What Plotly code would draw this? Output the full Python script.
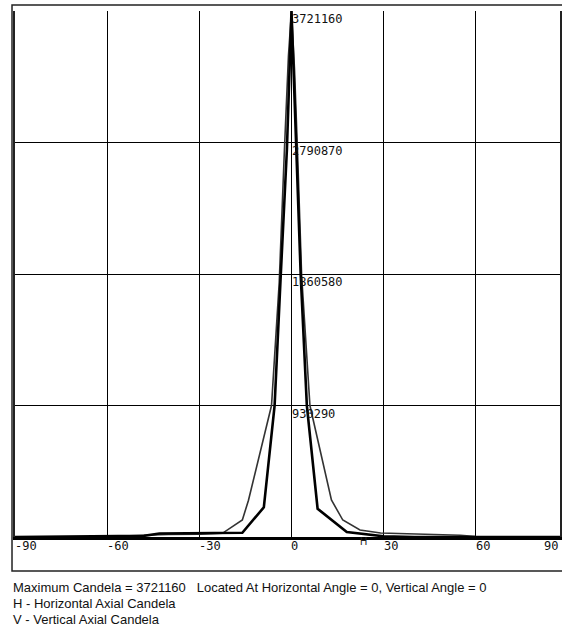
import plotly.graph_objects as go

# Horizontal axial candela (thin, wider curve)
h_angles = [-90, -65, -60, -48, -40, -30, -22.5, -16, -14, -6.5, -4, -2.3, -1, 0,
            1, 2, 3.3, 6, 13, 16.7, 22.3, 29, 40, 55, 60, 65, 90]
h_values = [0, 0, 3000, 12000, 18000, 20000, 26000, 120000, 260000, 930000, 1800000, 2740000, 3400000, 3721160,
            3300000, 2700000, 1850000, 930000, 262000, 120000, 50000, 28000, 20000, 12000, 3000, 0, 0]

# Vertical axial candela (thick, narrower curve)
v_angles = [-90, -65, -48, -43, -30, -16, -9, -5.5, -3.5, -1.5, 0,
            1.5, 3, 5, 8.5, 18, 24.6, 30, 40, 90]
v_values = [0, 2000, 8000, 25000, 28000, 30000, 210000, 930000, 1850000, 2740000, 3721160,
            2740000, 1850000, 930000, 200000, 35000, 18000, 5000, 0, 0]

max_cd = 3721160
y_ticks = [930290, 1860580, 2790870, 3721160]
y_tick_labels = ["930290", "1860580", "2790870", "3721160"]
x_ticks = [-90, -60, -30, 0, 30, 60, 90]
x_tick_labels = ["-90", "-60", "-30", "0", "30", "60", "90"]

footer_lines = [
    "Maximum Candela = 3721160&nbsp;&nbsp;&nbsp;Located At Horizontal Angle = 0, Vertical Angle = 0",
    "H - Horizontal Axial Candela",
    "V - Vertical Axial Candela",
]
footer_py = [588, 603, 619]

# plot-area geometry in pixels
L, T, B = 15, 11, 537
W_PLOT = 562 - L
H_PLOT = B - T

tick_font = dict(family="DejaVu Sans Mono", size=12, color="#111")

fig = go.Figure()
fig.add_trace(go.Scatter(x=h_angles, y=h_values, mode="lines",
                         line=dict(color="#333333", width=1.6), showlegend=False))
fig.add_trace(go.Scatter(x=v_angles, y=v_values, mode="lines",
                         line=dict(color="#000000", width=2.6), showlegend=False))

annotations = []
for v, t in zip(y_ticks, y_tick_labels):
    annotations.append(dict(x=0, y=v, xref="x", yref="y", text=t, showarrow=False,
                            xanchor="left", yanchor="top", xshift=-1, yshift=1,
                            font=tick_font))
for v, t in zip(x_ticks, x_tick_labels):
    if v == 90:
        annotations.append(dict(x=1.0, y=0, xref="paper", yref="y", text=t, showarrow=False,
                                xanchor="right", yanchor="top", yshift=0,
                                font=tick_font))
    else:
        annotations.append(dict(x=v, y=0, xref="x", yref="y", text=t, showarrow=False,
                                xanchor="left", yanchor="top", yshift=0, xshift=-2,
                                font=tick_font))
annotations.append(dict(x=23.5, y=0, xref="x", yref="y", text="H", showarrow=False,
                        xanchor="center", yanchor="top", yshift=3,
                        font=dict(family="Liberation Sans", size=10, color="#222")))
for line, py in zip(footer_lines, footer_py):
    annotations.append(dict(x=(11 - L) / W_PLOT, y=(B - py) / H_PLOT, xref="paper", yref="paper",
                            text=line, showarrow=False, xanchor="left", yanchor="middle",
                            font=dict(family="Liberation Sans", size=13, color="#111")))

fig.update_layout(annotations=annotations)

fig.add_shape(type="rect", xref="paper", yref="paper",
              x0=(12 - L) / W_PLOT, x1=1.02, y0=(B - 571) / H_PLOT, y1=(B - 5) / H_PLOT,
              line=dict(color="#222", width=1.5), layer="above")

fig.update_xaxes(range=[-90, 87.4], tick0=-90, dtick=30, showgrid=True, gridcolor="#000",
                 gridwidth=1, showticklabels=False, ticks="", zeroline=False,
                 showline=True, linecolor="#000", linewidth=2.5, mirror=False)
fig.update_yaxes(range=[0, max_cd], tick0=0, dtick=930290, showgrid=True, gridcolor="#000",
                 gridwidth=1, showticklabels=False, ticks="", zeroline=False,
                 showline=True, linecolor="#222", linewidth=1.5, mirror=True)

fig.update_layout(width=562, height=626, margin=dict(l=L, r=0, t=T, b=626 - B),
                  paper_bgcolor="white", plot_bgcolor="white")

fig.write_html("out.html", config={"displayModeBar": False},
               post_script="document.body.style.margin='0';document.body.style.overflow='hidden';")
